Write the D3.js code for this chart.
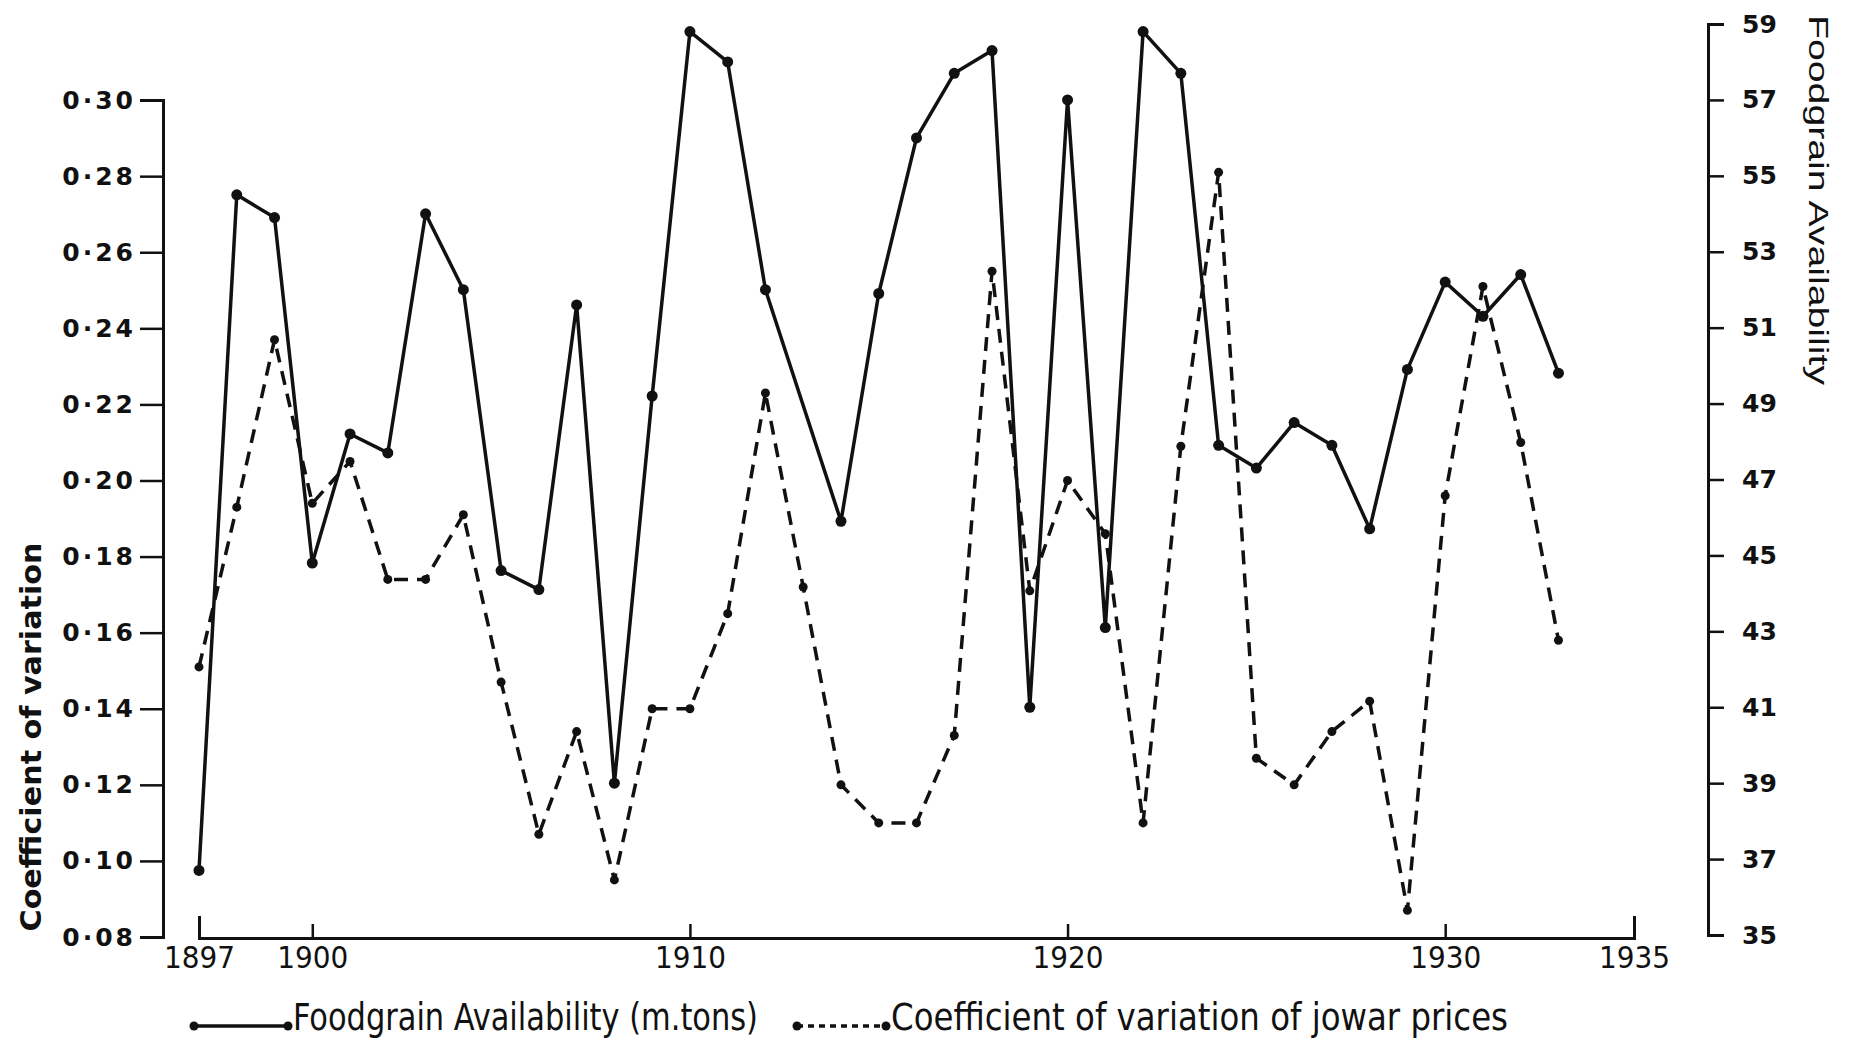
<!DOCTYPE html>
<meta charset="utf-8">
<style>
body { margin: 0; background: #fff; }
svg { display: block; }
.tick text, .lbl { fill: #111; }
</style>
<body>
<script src="https://d3js.org/d3.v7.min.js"></script>
<script>
// values
var years = [1897, 1898, 1899, 1900, 1901, 1902, 1903, 1904, 1905, 1906,
             1907, 1908, 1909, 1910, 1911, 1912, 1913, 1914, 1915, 1916,
             1917, 1918, 1919, 1920, 1921, 1922, 1923, 1924, 1925, 1926,
             1927, 1928, 1929, 1930, 1931, 1932, 1933];

// Foodgrain availability (m. tons) - right axis; null = no point plotted
var foodgrain = [36.7, 54.5, 53.9, 44.8, 48.2, 47.7, 54.0, 52.0, 44.6, 44.1,
                 51.6, 39.0, 49.2, 58.8, 58.0, 52.0, null, 45.9, 51.9, 56.0,
                 57.7, 58.3, 41.0, 57.0, 43.1, 58.8, 57.7, 47.9, 47.3, 48.5,
                 47.9, 45.7, 49.9, 52.2, 51.3, 52.4, 49.8];

// Coefficient of variation of jowar prices - left axis
var cvJowar = [0.151, 0.193, 0.237, 0.194, 0.205, 0.174, 0.174, 0.191, 0.147, 0.107,
               0.134, 0.095, 0.140, 0.140, 0.165, 0.223, 0.172, 0.120, 0.110, 0.110,
               0.133, 0.255, 0.171, 0.200, 0.186, 0.110, 0.209, 0.281, 0.127, 0.120,
               0.134, 0.142, 0.087, 0.196, 0.251, 0.210, 0.158];

var cvTicks = [0.08, 0.10, 0.12, 0.14, 0.16, 0.18, 0.20, 0.22, 0.24, 0.26, 0.28, 0.30];
var foodTicks = [35, 37, 39, 41, 43, 45, 47, 49, 51, 53, 55, 57, 59];
var yearTicks = [1897, 1900, 1910, 1920, 1930, 1935];

var width = 1849, height = 1046;
var ink = "#111";
var narrow = "'Liberation Sans Narrow', 'DejaVu Sans Condensed', 'Liberation Sans', sans-serif";

// scales
var x = d3.scaleLinear().domain([1897, 1935]).range([199, 1634]);
var yLeft = d3.scaleLinear().domain([0.08, 0.32]).range([937, 24]);
var yRight = d3.scaleLinear().domain([35, 59]).range([935, 24]);

var svg = d3.select("body").append("svg")
    .attr("width", width)
    .attr("height", height);

// left axis (line only spans 0.08 - 0.30)
var leftAxisScale = yLeft.copy().domain([0.08, 0.30]).range([yLeft(0.08), yLeft(0.30)]);
var gl = svg.append("g")
    .attr("transform", "translate(163,0)")
    .call(d3.axisLeft(leftAxisScale)
      .tickValues(cvTicks)
      .tickSize(23)
      .tickPadding(4)
      .tickFormat(function(d) { return d3.format(".2f")(d).replace(".", "·"); }));
gl.selectAll("text")
    .attr("font-family", "'DejaVu Sans', sans-serif")
    .attr("font-weight", "bold")
    .attr("font-size", 25)
    .attr("letter-spacing", 3);

// right axis
var gr = svg.append("g")
    .attr("transform", "translate(1708,0)")
    .call(d3.axisRight(yRight)
      .tickValues(foodTicks)
      .tickSize(16)
      .tickPadding(18)
      .tickFormat(d3.format("d")));
gr.selectAll("text")
    .attr("font-family", "'DejaVu Sans', sans-serif")
    .attr("font-weight", "bold")
    .attr("font-size", 25);

// x axis, ticks pointing up
var gx = svg.append("g")
    .attr("transform", "translate(0,938)")
    .call(d3.axisBottom(x)
      .tickValues(yearTicks)
      .tickSizeInner(-14)
      .tickSizeOuter(-22)
      .tickPadding(8)
      .tickFormat(d3.format("d")));
gx.selectAll("text")
    .attr("font-family", narrow)
    .attr("font-size", 31);

[gl, gr, gx].forEach(function(g) {
  g.select(".domain").attr("stroke", ink).attr("stroke-width", 3);
  g.selectAll(".tick line").attr("stroke", ink).attr("stroke-width", 2.5);
});

// axis titles
svg.append("text")
    .attr("class", "lbl")
    .attr("transform", "translate(41,737) rotate(-90)")
    .attr("text-anchor", "middle")
    .attr("font-family", narrow)
    .attr("font-weight", "bold")
    .attr("font-size", 28)
    .attr("textLength", 389)
    .attr("lengthAdjust", "spacingAndGlyphs")
    .text("Coefficient of variation");

svg.append("text")
    .attr("class", "lbl")
    .attr("transform", "translate(1809,200) rotate(90)")
    .attr("text-anchor", "middle")
    .attr("font-family", "'Liberation Sans', sans-serif")
    .attr("font-size", 27)
    .attr("fill", "#333")
    .attr("textLength", 370)
    .attr("lengthAdjust", "spacingAndGlyphs")
    .text("Foodgrain Availability");

// series
var foodData = years.map(function(y, i) { return {year: y, v: foodgrain[i]}; })
    .filter(function(d) { return d.v != null; });
var cvData = years.map(function(y, i) { return {year: y, v: cvJowar[i]}; });

var foodLine = d3.line()
    .x(function(d) { return x(d.year); })
    .y(function(d) { return yRight(d.v); });
var cvLine = d3.line()
    .x(function(d) { return x(d.year); })
    .y(function(d) { return yLeft(d.v); });

svg.append("path")
    .datum(cvData)
    .attr("fill", "none")
    .attr("stroke", ink)
    .attr("stroke-width", 3.5)
    .attr("stroke-dasharray", "14,9")
    .attr("d", cvLine);

svg.selectAll(".cvdot")
    .data(cvData)
  .enter().append("circle")
    .attr("class", "cvdot")
    .attr("cx", function(d) { return x(d.year); })
    .attr("cy", function(d) { return yLeft(d.v); })
    .attr("r", 4.5)
    .attr("fill", ink);

svg.append("path")
    .datum(foodData)
    .attr("fill", "none")
    .attr("stroke", ink)
    .attr("stroke-width", 3.5)
    .attr("stroke-linejoin", "round")
    .attr("d", foodLine);

svg.selectAll(".fdot")
    .data(foodData)
  .enter().append("circle")
    .attr("class", "fdot")
    .attr("cx", function(d) { return x(d.year); })
    .attr("cy", function(d) { return yRight(d.v); })
    .attr("r", 5.5)
    .attr("fill", ink);

// legend
var legend = svg.append("g");
var legendItems = [
  {x0: 194, x1: 288, tx: 293, tw: 465, dash: null, label: "Foodgrain Availability (m.tons)"},
  {x0: 797, x1: 886, tx: 891, tw: 617, dash: "6,5", label: "Coefficient of variation of jowar prices"}
];
legendItems.forEach(function(it) {
  legend.append("line")
      .attr("x1", it.x0).attr("x2", it.x1)
      .attr("y1", 1026).attr("y2", 1026)
      .attr("stroke", ink)
      .attr("stroke-width", 3.5)
      .attr("stroke-dasharray", it.dash);
  legend.append("circle").attr("cx", it.x0).attr("cy", 1026).attr("r", 4.5).attr("fill", ink);
  legend.append("circle").attr("cx", it.x1).attr("cy", 1026).attr("r", 4.5).attr("fill", ink);
  legend.append("text")
      .attr("class", "lbl")
      .attr("x", it.tx)
      .attr("y", 1030)
      .attr("font-family", narrow)
      .attr("font-size", 37)
      .attr("textLength", it.tw)
      .attr("lengthAdjust", "spacingAndGlyphs")
      .text(it.label);
});
</script>
</body>
